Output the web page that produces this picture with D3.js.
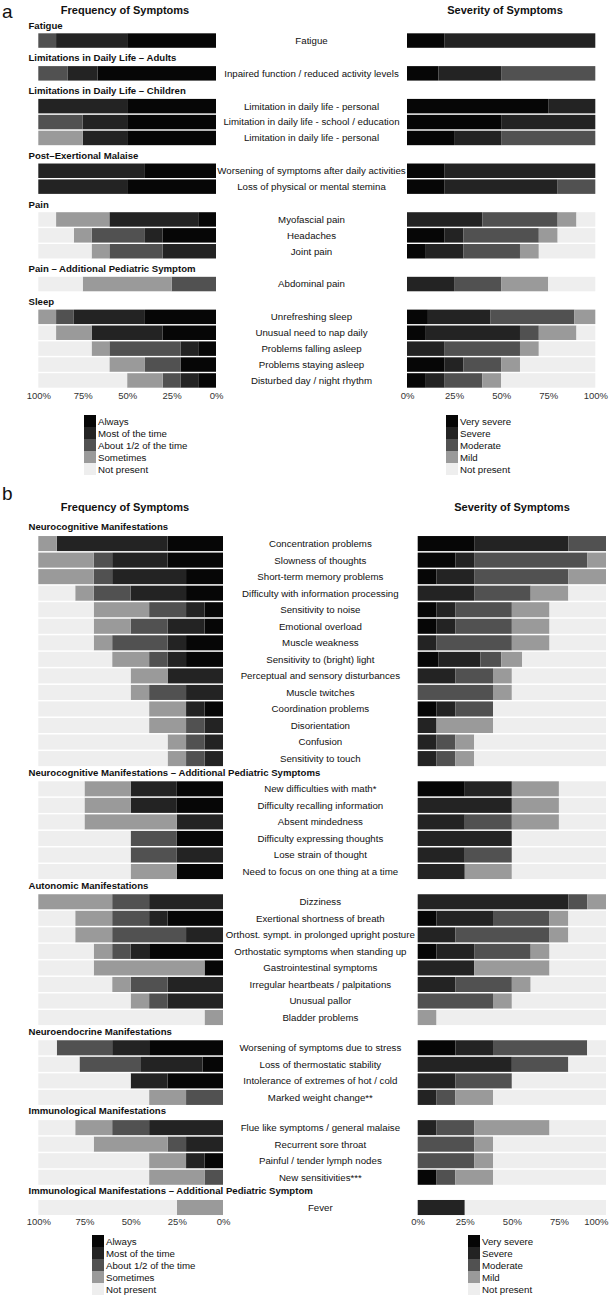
<!DOCTYPE html>
<meta charset="utf-8">
<script src="https://d3js.org/d3.v7.min.js"></script>
<style>
  body { margin: 0; background: #fff; }
  svg text { font-family: "Liberation Sans", Arial, Helvetica, sans-serif; fill: #111; }
  .title { font-size: 11px; font-weight: bold; text-anchor: middle; }
  .group { font-size: 9.6px; font-weight: bold; }
  .label { font-size: 9.7px; text-anchor: middle; }
  .legend { font-size: 9.7px; }
  .panel { font-size: 19px; }
</style>
<div id="chart"></div>
<script>
// answer levels (darkest first)
const freqLevels = ["Always", "Most of the time", "About 1/2 of the time", "Sometimes", "Not present"];
const sevLevels = ["Very severe", "Severe", "Moderate", "Mild", "Not present"];
const levelColors = ["#060606", "#232323", "#515151", "#9a9a9a", "#eeeeee"];
const tickValues = [0, 25, 50, 75, 100];

// ---- panel a ----
const groupsA = ["Fatigue", "Limitations in Daily Life – Adults", "Limitations in Daily Life – Children",
  "Post–Exertional Malaise", "Pain", "Pain – Additional Pediatric Symptom", "Sleep"];
const groupSizesA = [1, 1, 3, 2, 3, 1, 5];
const symptomsA = ["Fatigue", "Inpaired function / reduced activity levels",
  "Limitation in daily life - personal", "Limitation in daily life - school / education", "Limitation in daily life - personal",
  "Worsening of symptoms after daily activities", "Loss of physical or mental stemina",
  "Myofascial pain", "Headaches", "Joint pain",
  "Abdominal pain",
  "Unrefreshing sleep", "Unusual need to nap daily", "Problems falling asleep", "Problems staying asleep", "Disturbed day / night rhythm"];
// Always, Most, About 1/2, Sometimes, Not present (%)
const freqA = [
  [50, 40, 10, 0, 0],
  [66.7, 16.7, 16.6, 0, 0],
  [50, 50, 0, 0, 0],
  [50, 25, 25, 0, 0],
  [50, 25, 0, 25, 0],
  [40, 60, 0, 0, 0],
  [50, 50, 0, 0, 0],
  [10, 50, 0, 30, 10],
  [30, 10, 30, 10, 20],
  [0, 30, 30, 10, 30],
  [0, 0, 25, 50, 25],
  [40, 40, 10, 10, 0],
  [30, 40, 0, 20, 10],
  [10, 10, 40, 10, 30],
  [20, 0, 20, 20, 40],
  [10, 10, 10, 20, 50]
];
// Very severe, Severe, Moderate, Mild, Not present (%)
const sevA = [
  [20, 80, 0, 0, 0],
  [16.7, 33.3, 50, 0, 0],
  [75, 25, 0, 0, 0],
  [50, 50, 0, 0, 0],
  [25, 25, 50, 0, 0],
  [20, 80, 0, 0, 0],
  [20, 60, 20, 0, 0],
  [0, 40, 40, 10, 10],
  [20, 10, 40, 10, 20],
  [10, 20, 30, 10, 30],
  [0, 25, 25, 25, 25],
  [11.1, 33.3, 44.5, 11.1, 0],
  [10, 50, 10, 20, 10],
  [0, 20, 40, 10, 30],
  [20, 10, 20, 10, 40],
  [10, 10, 20, 10, 50]
];

// ---- panel b ----
const groupsB = ["Neurocognitive Manifestations", "Neurocognitive Manifestations – Additional Pediatric Symptoms",
  "Autonomic Manifestations", "Neuroendocrine Manifestations", "Immunological Manifestations",
  "Immunological Manifestations – Additional Pediatric Symptom"];
const groupSizesB = [14, 6, 8, 4, 4, 1];
const symptomsB = ["Concentration problems", "Slowness of thoughts", "Short-term memory problems",
  "Difficulty with information processing", "Sensitivity to noise", "Emotional overload", "Muscle weakness",
  "Sensitivity to (bright) light", "Perceptual and sensory disturbances", "Muscle twitches",
  "Coordination problems", "Disorientation", "Confusion", "Sensitivity to touch",
  "New difficulties with math*", "Difficulty recalling information", "Absent mindedness",
  "Difficulty expressing thoughts", "Lose strain of thought", "Need to focus on one thing at a time",
  "Dizziness", "Exertional shortness of breath", "Orthost. sympt. in prolonged upright posture",
  "Orthostatic symptoms when standing up", "Gastrointestinal symptoms", "Irregular heartbeats / palpitations",
  "Unusual pallor", "Bladder problems",
  "Worsening of symptoms due to stress", "Loss of thermostatic stability",
  "Intolerance of extremes of hot / cold", "Marked weight change**",
  "Flue like symptoms / general malaise", "Recurrent sore throat", "Painful / tender lymph nodes", "New sensitivities***",
  "Fever"];
const freqB = [
  [30, 60, 0, 10, 0],
  [30, 30, 10, 30, 0],
  [20, 40, 10, 30, 0],
  [20, 30, 20, 10, 20],
  [10, 10, 20, 30, 30],
  [10, 20, 20, 20, 30],
  [20, 10, 30, 10, 30],
  [20, 10, 10, 20, 40],
  [0, 30, 0, 20, 50],
  [0, 20, 20, 10, 50],
  [10, 10, 0, 20, 60],
  [0, 10, 10, 20, 60],
  [0, 10, 10, 10, 70],
  [0, 10, 10, 10, 70],
  [25, 25, 0, 25, 25],
  [25, 25, 0, 25, 25],
  [0, 25, 0, 50, 25],
  [25, 0, 25, 0, 50],
  [0, 25, 25, 0, 50],
  [25, 0, 0, 25, 50],
  [0, 40, 20, 40, 0],
  [30, 10, 20, 20, 20],
  [0, 20, 40, 20, 20],
  [40, 10, 10, 10, 30],
  [10, 0, 0, 60, 30],
  [0, 30, 20, 10, 40],
  [0, 30, 10, 10, 50],
  [0, 0, 0, 10, 90],
  [40, 20, 30, 0, 10],
  [11.1, 33.3, 33.3, 0, 22.3],
  [30, 20, 0, 0, 50],
  [0, 0, 20, 20, 60],
  [0, 40, 20, 20, 20],
  [0, 20, 10, 40, 30],
  [10, 10, 0, 20, 60],
  [0, 0, 10, 30, 60],
  [0, 0, 0, 25, 75]
];
const sevB = [
  [30, 50, 20, 0, 0],
  [20, 10, 60, 10, 0],
  [10, 20, 50, 20, 0],
  [0, 30, 30, 20, 20],
  [10, 10, 30, 20, 30],
  [10, 10, 30, 20, 30],
  [0, 10, 40, 20, 30],
  [11.1, 22.2, 11.1, 11.1, 44.5],
  [0, 20, 20, 10, 50],
  [0, 0, 40, 10, 50],
  [10, 10, 20, 0, 60],
  [0, 10, 0, 30, 60],
  [0, 10, 10, 10, 70],
  [0, 10, 10, 10, 70],
  [25, 25, 0, 25, 25],
  [0, 50, 0, 25, 25],
  [0, 25, 25, 25, 25],
  [0, 50, 0, 0, 50],
  [0, 25, 25, 0, 50],
  [0, 25, 0, 25, 50],
  [0, 80, 10, 10, 0],
  [10, 30, 30, 10, 20],
  [0, 20, 50, 10, 20],
  [10, 20, 30, 10, 30],
  [0, 30, 0, 40, 30],
  [0, 20, 30, 10, 40],
  [0, 0, 40, 10, 50],
  [0, 0, 0, 10, 90],
  [20, 20, 50, 0, 10],
  [0, 50, 30, 0, 20],
  [0, 20, 30, 0, 50],
  [0, 10, 10, 20, 60],
  [0, 10, 20, 40, 30],
  [0, 0, 30, 10, 60],
  [0, 0, 30, 10, 60],
  [10, 0, 10, 20, 60],
  [0, 25, 0, 0, 75]
];

const svg = d3.select("#chart").append("svg")
  .attr("width", 612)
  .attr("height", 1298);

const color = d3.scaleOrdinal().domain(d3.range(5)).range(levelColors);
const stack = d3.stack().keys(d3.range(5)).value((d, k) => d[k]);

function drawPanel(cfg) {
  const g = svg.append("g");

  // panel letter and titles
  g.append("text").attr("class", "panel").attr("x", cfg.letterX).attr("y", cfg.letterY).text(cfg.letter);
  g.append("text").attr("class", "title").attr("x", cfg.freqTitleX).attr("y", cfg.titleY).text("Frequency of Symptoms");
  g.append("text").attr("class", "title").attr("x", cfg.sevTitleX).attr("y", cfg.titleY).text("Severity of Symptoms");

  const xFreq = d3.scaleLinear().domain([0, 100]).range(cfg.freqRange);
  const xSev = d3.scaleLinear().domain([0, 100]).range(cfg.sevRange);

  // one band scale per group
  const rowY = [];
  let top = cfg.top, k = 0;
  cfg.groups.forEach((name, gi) => {
    const n = cfg.sizes[gi];
    const names = d3.range(k, k + n);
    const y = d3.scaleBand().domain(names).range([top, top + n * cfg.pitch])
      .paddingInner(0.09).paddingOuter(0.045);
    g.append("text").attr("class", "group")
      .attr("x", 28.5).attr("y", top - cfg.headerGap).text(name);
    names.forEach(i => rowY[i] = { y: y(i), h: y.bandwidth() });
    top = top + n * cfg.pitch + cfg.headerH;
    k += n;
  });

  function drawBars(data, x) {
    const series = stack(data);
    g.append("g").selectAll("g")
      .data(series)
      .join("g")
      .attr("fill", d => color(d.key))
      .selectAll("rect")
      .data(d => d.map((s, i) => ({ s, i })))
      .join("rect")
      .attr("x", d => Math.min(x(d.s[0]), x(d.s[1])))
      .attr("width", d => Math.abs(x(d.s[1]) - x(d.s[0])))
      .attr("y", d => rowY[d.i].y)
      .attr("height", d => rowY[d.i].h);
  }
  drawBars(cfg.freq, xFreq);
  drawBars(cfg.sev, xSev);

  // symptom labels between the two charts
  const labelX = (cfg.freqRange[0] + cfg.sevRange[0]) / 2;
  g.append("g").selectAll("text")
    .data(cfg.symptoms)
    .join("text")
    .attr("class", "label")
    .attr("x", labelX)
    .attr("y", (d, i) => rowY[i].y + rowY[i].h / 2)
    .attr("dy", "0.35em")
    .text(d => d);

  // axes
  [xFreq, xSev].forEach((x, ai) => {
    const ax = g.append("g")
      .attr("transform", `translate(0,${cfg.axisY})`)
      .call(d3.axisBottom(x).tickValues(tickValues).tickFormat(d => d + "%").tickSize(0).tickPadding(3));
    ax.select(".domain").remove();
    ax.selectAll("text").style("font-size", "9.5px").style("fill", "#333")
      .style("font-family", '"Liberation Sans", Arial, Helvetica, sans-serif');
    // keep the 100% label inside the page when the axis reaches the edge
    if (ai === 1 && cfg.clampLast) {
      ax.selectAll(".tick").filter(d => d === 100).select("text")
        .attr("text-anchor", "end").attr("dx", 2);
    }
  });

  // legends
  function legend(levels, x0) {
    const lg = g.append("g").attr("transform", `translate(${x0},${cfg.legendY})`);
    const item = lg.selectAll("g").data(levels).join("g")
      .attr("transform", (d, i) => `translate(0,${i * 12})`);
    item.append("rect").attr("width", 12).attr("height", 12).attr("fill", (d, i) => color(i));
    item.append("text").attr("class", "legend").attr("x", 14).attr("y", 9.6).text(d => d);
  }
  legend(freqLevels, cfg.freqLegendX);
  legend(sevLevels, cfg.sevLegendX);
}

drawPanel({
  letter: "a", letterX: 2, letterY: 17.5,
  titleY: 14, freqTitleX: 125, sevTitleX: 505,
  groups: groupsA, sizes: groupSizesA, symptoms: symptomsA, freq: freqA, sev: sevA,
  freqRange: [216, 38.3], sevRange: [407, 595.3],
  top: 32.6, pitch: 15.9, headerH: 16.9, headerGap: 4,
  axisY: 389.5, legendY: 415, freqLegendX: 84, sevLegendX: 446, clampLast: false
});

drawPanel({
  letter: "b", letterX: 2, letterY: 500,
  titleY: 510.5, freqTitleX: 125, sevTitleX: 512,
  groups: groupsB, sizes: groupSizesB, symptoms: symptomsB, freq: freqB, sev: sevB,
  freqRange: [223, 38.3], sevRange: [417.7, 606],
  top: 535.3, pitch: 16.54, headerH: 13.7, headerGap: 5,
  axisY: 1215.5, legendY: 1235, freqLegendX: 92, sevLegendX: 468, clampLast: true
});
</script>
